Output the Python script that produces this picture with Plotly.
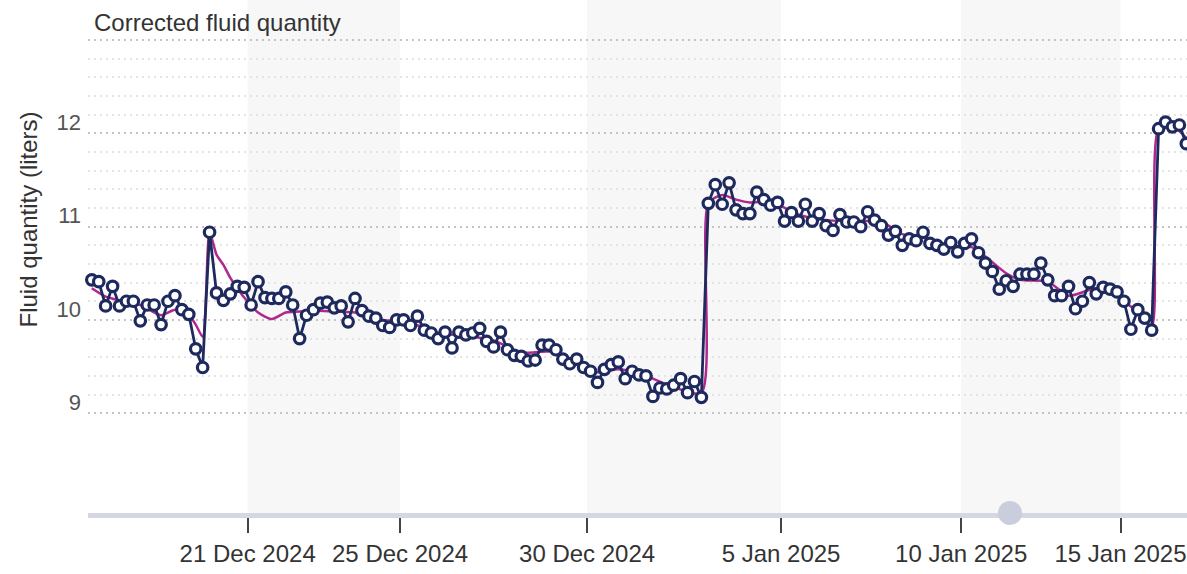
import numpy as np
import pandas as pd
import plotly.graph_objects as go

# ---------------- data ----------------
title_text = "Corrected fluid quantity"
y_title = "Fluid quantity (liters)"

first_day = "2024-12-17"
# number of measurements recorded on each calendar day (17 Dec 2024 .. 16 Jan 2025)
points_per_day = [5, 6, 6, 6,
                  6, 5, 6, 5,
                  5, 6, 5, 6, 5,
                  5, 5, 4, 5, 4, 5,
                  5, 5, 6, 5, 5,
                  5, 4, 5, 4, 5,
                  5, 5]

fluid_liters = [
    10.43, 10.41, 10.15, 10.36, 10.15, 10.20, 10.20, 9.99, 10.16, 10.16,
    9.95, 10.20, 10.26, 10.11, 10.06, 9.69, 9.49, 10.94,
    10.29, 10.21, 10.28, 10.36, 10.35, 10.16, 10.41, 10.24, 10.23, 10.23,
    10.30, 10.16, 9.80, 10.05, 10.11, 10.18, 10.19, 10.13, 10.15, 9.98,
    10.23, 10.10, 10.04, 10.02, 9.94, 9.92, 10.00,
    10.00, 9.94, 10.04, 9.89, 9.86, 9.80, 9.87, 9.70, 9.87, 9.84,
    9.86, 9.91, 9.77, 9.71, 9.87, 9.68, 9.62, 9.61, 9.56, 9.57,
    9.73, 9.73, 9.68, 9.58, 9.53, 9.58, 9.49, 9.45, 9.33,
    9.47, 9.52, 9.55, 9.37, 9.45, 9.41, 9.40, 9.18, 9.27, 9.26,
    9.30, 9.37, 9.22, 9.34, 9.17,
    11.25, 11.45, 11.24, 11.47, 11.18, 11.14, 11.14, 11.37, 11.29, 11.23,
    11.26, 11.06, 11.15, 11.06, 11.24, 11.06, 11.14, 11.01, 10.96, 11.13,
    11.05, 11.05, 11.00, 11.16, 11.07, 11.01, 10.91, 10.95, 10.80, 10.87,
    10.85, 10.94, 10.82, 10.80, 10.76, 10.83, 10.73, 10.82, 10.87, 10.72,
    10.61, 10.52, 10.33, 10.42, 10.36, 10.49, 10.49, 10.49, 10.61, 10.43,
    10.26, 10.26, 10.36, 10.12, 10.20, 10.40, 10.28, 10.35, 10.33, 10.30,
    10.20, 9.90, 10.11, 10.02, 9.89,
    12.05, 12.12, 12.07, 12.09, 11.89,
]

# smoothed trend (magenta), read at a subset of measurement positions
trend_pos = [0, 2, 4, 7, 10, 12, 14, 15, 16, 17, 18, 19, 20, 21, 22, 24, 26, 28,
             30, 32, 35, 38, 42, 46, 50, 54, 58, 62, 66, 70, 73, 76, 80, 84, 88,
             89, 91, 93, 95, 98, 102, 106, 110, 114, 117, 120, 124, 127, 129,
             132, 134, 138, 141, 144, 146, 149, 151, 153, 154, 156, 158]
trend_vals = [10.34, 10.25, 10.21, 10.16, 10.05, 10.11, 10.05, 9.95, 9.82, 10.94,
              10.70, 10.59, 10.45, 10.34, 10.24, 10.08, 10.01, 10.08,
              10.09, 10.10, 10.09, 10.08, 10.00, 9.97, 9.86, 9.83, 9.78, 9.65,
              9.66, 9.55, 9.44, 9.47, 9.40, 9.28, 9.22,
              11.25, 11.34, 11.29, 11.26, 11.27, 11.13, 11.07, 11.06, 11.05,
              10.92, 10.88, 10.79, 10.78, 10.68,
              10.50, 10.43, 10.41, 10.26, 10.32, 10.34, 10.20, 10.08, 9.93,
              12.05, 12.08, 11.95]

tick_dates = ["2024-12-21", "2024-12-25", "2024-12-30", "2025-01-05", "2025-01-10", "2025-01-15"]
tick_labels = ["21 Dec 2024", "25 Dec 2024", "30 Dec 2024", "5 Jan 2025", "10 Jan 2025", "15 Jan 2025"]
band_starts = ["2024-12-21", "2024-12-30", "2025-01-10"]
band_ends = ["2024-12-25", "2025-01-05", "2025-01-15"]

y_ticks = [9, 10, 11, 12, 13]
y_tick_text = ["9", "10", "11", "12", ""]
y_minor = [9.2, 9.4, 9.6, 9.8, 10.2, 10.4, 10.6, 10.8, 11.2, 11.4, 11.6, 11.8,
           12.2, 12.4, 12.6, 12.8]

# ---------------- ordinal time axis ----------------
days = pd.date_range(first_day, periods=len(points_per_day), freq="D")
stamps = []
for d, n in zip(days, points_per_day):
    for k in range(n):
        stamps.append(d + pd.Timedelta(days=(k + 0.5) / n))
stamps = pd.DatetimeIndex(stamps)
idx = np.arange(len(fluid_liters))
t_num = stamps.asi8.astype(float)


def pos_of(date_str):
    return float(np.interp(pd.Timestamp(date_str).value, t_num, idx))


tick_pos = [pos_of(d) for d in tick_dates]

FONT = "Arial, Liberation Sans, sans-serif"
NAVY = "#1e2a5e"
MAGENTA = "#b0288f"

fig = go.Figure()

for s, e in zip(band_starts, band_ends):
    fig.add_shape(type="rect", xref="x", yref="paper", x0=pos_of(s), x1=pos_of(e),
                  y0=0, y1=1, fillcolor="#f7f7f7", line_width=0, layer="below")

fig.add_trace(go.Scatter(
    x=trend_pos, y=trend_vals, mode="lines",
    line=dict(color=MAGENTA, width=2.5, shape="spline", smoothing=0.7),
    hoverinfo="skip", showlegend=False))

fig.add_trace(go.Scatter(
    x=idx, y=fluid_liters, mode="lines+markers", cliponaxis=False,
    line=dict(color=NAVY, width=2.8),
    marker=dict(symbol="circle", size=10.5, color="white",
                line=dict(color=NAVY, width=3.2)),
    text=[s.strftime("%d %b %Y %H:%M") for s in stamps],
    showlegend=False))

# navigator handle on the axis line
fig.add_shape(type="circle", xref="paper", yref="paper",
              xsizemode="pixel", ysizemode="pixel",
              xanchor=(1010 - 88) / 1099, yanchor=0,
              x0=-12, x1=12, y0=-12, y1=12,
              fillcolor="#c9cddc", line_width=0, layer="above")

fig.add_annotation(text=title_text, xref="paper", yref="paper",
                   x=(92 - 88) / 1099, y=1 - 22 / 513, xanchor="left", yanchor="middle",
                   showarrow=False, font=dict(family=FONT, size=24, color="#333333"))
fig.add_annotation(text=y_title, xref="paper", yref="paper",
                   x=(27.5 - 88) / 1099, y=1 - 220 / 513, xanchor="center", yanchor="middle",
                   textangle=-90, showarrow=False,
                   font=dict(family=FONT, size=24, color="#333333"))

fig.update_layout(
    width=1187, height=574,
    margin=dict(l=88, r=0, t=0, b=61),
    paper_bgcolor="white", plot_bgcolor="white",
    font=dict(family=FONT, color="#333333"),
    xaxis=dict(
        range=[-0.55, 158.1], showgrid=False, zeroline=False,
        tickmode="array", tickvals=tick_pos, ticktext=tick_labels,
        ticks="outside", ticklen=15, tickwidth=2, tickcolor="#444444",
        tickfont=dict(family=FONT, size=24, color="#333333"),
        showline=True, linecolor="#d5d8e0", linewidth=5,
    ),
    yaxis=dict(
        range=[7.93, 13.43], zeroline=False,
        tickmode="array", tickvals=y_ticks, ticktext=y_tick_text,
        showgrid=True, gridcolor="#c4c4c4", gridwidth=2, griddash="2px,4px",
        ticks="", ticklabelstandoff=6, ticklabelshift=-11,
        tickfont=dict(family=FONT, size=22, color="#555555"),
        minor=dict(tickmode="array", tickvals=y_minor, showgrid=True,
                   gridcolor="#e4e4e4", gridwidth=1.5, griddash="2px,4px"),
        showline=False,
    ),
)

fig.write_html("out.html", config={"displayModeBar": False},
               post_script="document.body.style.margin='0';document.body.style.overflow='hidden';")
